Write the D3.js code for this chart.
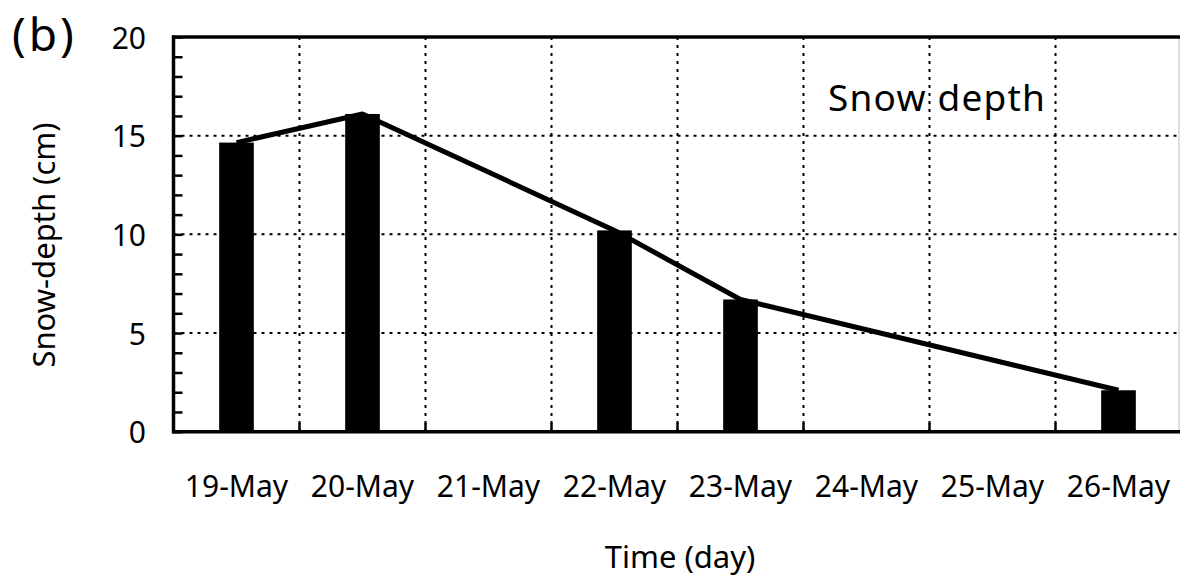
<!DOCTYPE html>
<html>
<head>
<meta charset="utf-8">
<script src="https://cdn.jsdelivr.net/npm/d3@7"></script>
<style>
  html, body { margin: 0; padding: 0; background: #fff; }
  svg { display: block; }
  text { font-family: "Noto Sans", "Open Sans", sans-serif; fill: #000; }
</style>
</head>
<body>
<svg id="chart" width="1180" height="581"></svg>
<script>
// Daily snow depth, May
const days = ["19-May", "20-May", "21-May", "22-May", "23-May", "24-May", "25-May", "26-May"];
const measuredDays = ["19-May", "20-May", "22-May", "23-May", "26-May"];
const snowDepth = [14.65, 16.1, 10.2, 6.7, 2.1];
const yTicks = [0, 5, 10, 15, 20];

const data = measuredDays.map((d, i) => ({ day: d, value: snowDepth[i] }));

const svg = d3.select("#chart");
const plotL = 173.5, plotR = 1181.5, plotT = 37, plotB = 431.7;

const x = d3.scaleBand().domain(days).range([plotL, plotR]).padding(0);
const y = d3.scaleLinear().domain([0, 20]).range([plotB, plotT]);
const barW = x.bandwidth() * 0.275;

// Grid: dotted lines at major y values and between days
const grid = svg.append("g").attr("stroke", "#000").attr("stroke-width", 2)
  .attr("stroke-dasharray", "3,5");
grid.selectAll("line.h").data(yTicks.filter(v => v > 0 && v < 20)).join("line")
  .attr("class", "h")
  .attr("x1", plotL).attr("x2", 1178)
  .attr("y1", d => y(d)).attr("y2", d => y(d));
grid.selectAll("line.v").data(days.slice(1)).join("line")
  .attr("class", "v")
  .attr("x1", d => x(d)).attr("x2", d => x(d))
  .attr("y1", plotT).attr("y2", plotB);

// Bars
svg.append("g").selectAll("rect").data(data).join("rect")
  .attr("x", d => x(d.day) + x.bandwidth() / 2 - barW / 2)
  .attr("width", barW)
  .attr("y", d => y(d.value))
  .attr("height", d => y(0) - y(d.value))
  .attr("fill", "#000");

// Connecting line through bar tops
const line = d3.line()
  .x(d => x(d.day) + x.bandwidth() / 2)
  .y(d => y(d.value));
svg.append("path").datum(data)
  .attr("d", line)
  .attr("fill", "none")
  .attr("stroke", "#000")
  .attr("stroke-width", 5)
  .attr("stroke-linejoin", "round");

// Y axis: inner minor ticks every unit
const yAxis = d3.axisLeft(y).tickValues(d3.range(0, 21, 1)).tickSize(-9).tickFormat("");
const gy = svg.append("g").attr("transform", `translate(${plotL},0)`).call(yAxis);
gy.select(".domain").remove();
gy.selectAll(".tick line").attr("stroke", "#000").attr("stroke-width", 2.5);

// Y tick labels
svg.append("g").selectAll("text").data(yTicks).join("text")
  .attr("x", 146).attr("y", d => y(d))
  .attr("text-anchor", "end").attr("dominant-baseline", "central")
  .attr("font-size", 30)
  .text(d => d);

// X axis: small inner ticks at day boundaries
const boundaries = days.slice(1).map(d => x(d));
svg.append("g").selectAll("line").data(boundaries).join("line")
  .attr("x1", d => d).attr("x2", d => d)
  .attr("y1", plotB).attr("y2", plotB - 9)
  .attr("stroke", "#000").attr("stroke-width", 2.5);

// X tick labels
svg.append("g").selectAll("text").data(days).join("text")
  .attr("x", d => x(d) + x.bandwidth() / 2)
  .attr("y", 497)
  .attr("text-anchor", "middle")
  .attr("font-size", 30)
  .text(d => d);

// Frame
svg.append("line").attr("x1", 1179).attr("x2", 1179).attr("y1", plotT).attr("y2", plotB)
  .attr("stroke", "#bbb").attr("stroke-width", 1);
svg.append("line").attr("x1", plotL - 1.5).attr("x2", 1180).attr("y1", plotT).attr("y2", plotT)
  .attr("stroke", "#000").attr("stroke-width", 3.5);
svg.append("line").attr("x1", plotL - 1.5).attr("x2", 1180).attr("y1", plotB).attr("y2", plotB)
  .attr("stroke", "#000").attr("stroke-width", 3.5);
svg.append("line").attr("x1", plotL).attr("x2", plotL).attr("y1", plotT - 1.5).attr("y2", plotB + 1.5)
  .attr("stroke", "#000").attr("stroke-width", 3.5);

// Titles and labels
svg.append("text").attr("x", 12).attr("y", 51).attr("font-size", 46)
  .attr("letter-spacing", 3).text("(b)");
svg.append("text").attr("x", 828).attr("y", 111).attr("font-size", 37)
  .attr("letter-spacing", 1.2).text("Snow depth");
svg.append("text").attr("x", 680).attr("y", 568).attr("text-anchor", "middle")
  .attr("font-size", 31).text("Time (day)");
svg.append("text")
  .attr("transform", "translate(55,245) rotate(-90)")
  .attr("text-anchor", "middle")
  .attr("font-size", 31)
  .text("Snow-depth (cm)");
</script>
</body>
</html>
